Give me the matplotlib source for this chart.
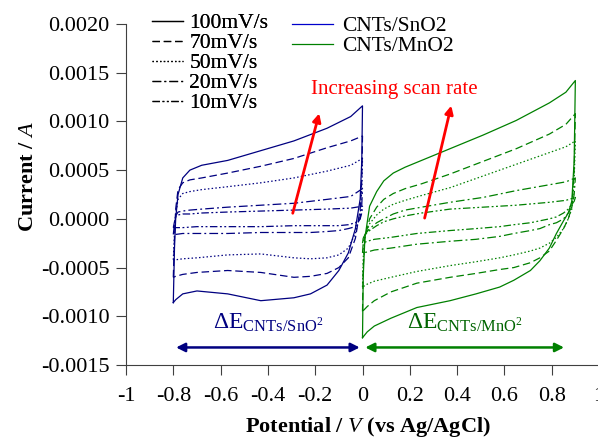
import matplotlib
matplotlib.use("Agg")
import matplotlib.pyplot as plt
from matplotlib.lines import Line2D

plt.rcParams["font.family"] = ["Liberation Serif", "DejaVu Serif"]
plt.rcParams["mathtext.fontset"] = "custom"
plt.rcParams["mathtext.rm"] = "Liberation Serif"
plt.rcParams["mathtext.it"] = "Liberation Serif:italic"
plt.rcParams["mathtext.bf"] = "Liberation Serif:bold"
plt.rcParams["axes.unicode_minus"] = False

# scan rates, legend labels
rates = ["100mV/s", "70mV/s", "50mV/s", "20mV/s", "10mV/s"]

# CNTs/SnO2 : anodic sweep (-0.8 -> 0 V) then cathodic sweep (0 -> -0.8 V)
sno2_up_x = [-0.80, -0.795, -0.79, -0.78, -0.76, -0.73, -0.68, -0.57, -0.43, -0.29, -0.15, -0.05, 0.0]
sno2_dn_x = [0.0, -0.003, -0.01, -0.03, -0.06, -0.10, -0.15, -0.22, -0.29, -0.43, -0.57, -0.70, -0.76, -0.79, -0.80]

sno2_up_100 = [-0.00086, -0.00030, 0.0, 0.00025, 0.00042, 0.00050, 0.00055, 0.00060, 0.00070, 0.00080, 0.00093, 0.00105, 0.00116]
sno2_dn_100 = [0.00116, 0.00060, 0.00020, -0.00010, -0.00035, -0.00053, -0.00068, -0.00077, -0.00081, -0.00084, -0.00077, -0.00074, -0.00077, -0.00083, -0.00086]
sno2_up_70 = [-0.00060, -0.00020, 0.00010, 0.00030, 0.00037, 0.00040, 0.00042, 0.00047, 0.00054, 0.00062, 0.00073, 0.00080, 0.00085]
sno2_dn_70 = [0.00085, 0.00040, 0.00010, -0.00020, -0.00040, -0.00050, -0.00056, -0.00059, -0.00060, -0.00055, -0.00053, -0.00055, -0.00057, -0.00059, -0.00060]
sno2_up_50 = [-0.00042, -0.00015, 0.00005, 0.00020, 0.00026, 0.00028, 0.00030, 0.00033, 0.00037, 0.00042, 0.00049, 0.00055, 0.00062]
sno2_dn_50 = [0.00062, 0.00030, 0.00005, -0.00015, -0.00030, -0.00037, -0.00040, -0.00041, -0.00040, -0.00036, -0.00037, -0.00040, -0.00041, -0.00042, -0.00042]
sno2_up_20 = [-0.00016, -0.00005, 0.00003, 0.00007, 0.00008, 0.00009, 0.00010, 0.00012, 0.00014, 0.00016, 0.00020, 0.00023, 0.00031]
sno2_dn_20 = [0.00031, 0.00015, 0.0, -0.00008, -0.00010, -0.00012, -0.00013, -0.00014, -0.00014, -0.00014, -0.00015, -0.00015, -0.00015, -0.00016, -0.00016]
sno2_up_10 = [-0.00009, -0.00003, 0.00002, 0.00004, 0.00005, 0.00005, 0.00006, 0.00007, 0.00008, 0.00009, 0.00010, 0.00011, 0.00013]
sno2_dn_10 = [0.00013, 0.00006, 0.0, -0.00004, -0.00006, -0.00007, -0.00007, -0.00007, -0.00007, -0.00008, -0.00008, -0.00008, -0.00009, -0.00009, -0.00009]

# CNTs/MnO2 : anodic sweep (0 -> 0.9 V) then cathodic sweep (0.9 -> 0 V)
mno2_up_x = [0.0, 0.003, 0.01, 0.03, 0.06, 0.09, 0.13, 0.18, 0.25, 0.37, 0.51, 0.65, 0.79, 0.86, 0.90]
mno2_dn_x = [0.90, 0.895, 0.885, 0.87, 0.85, 0.82, 0.79, 0.75, 0.71, 0.64, 0.58, 0.48, 0.37, 0.23, 0.12, 0.05, 0.02, 0.0]

mno2_up_100 = [-0.00122, -0.00060, -0.00020, 0.00013, 0.00028, 0.00039, 0.00047, 0.00053, 0.00060, 0.00072, 0.00086, 0.00101, 0.00119, 0.00130, 0.00142]
mno2_dn_100 = [0.00142, 0.00060, 0.00018, 0.00006, -0.00002, -0.00015, -0.00030, -0.00043, -0.00053, -0.00063, -0.00070, -0.00077, -0.00084, -0.00091, -0.00102, -0.00110, -0.00116, -0.00122]
mno2_up_70 = [-0.00095, -0.00050, -0.00020, 0.0, 0.00012, 0.00020, 0.00026, 0.00031, 0.00036, 0.00046, 0.00059, 0.00072, 0.00087, 0.00097, 0.00108]
mno2_dn_70 = [0.00108, 0.00050, 0.00012, 0.0, -0.00010, -0.00022, -0.00033, -0.00040, -0.00045, -0.00050, -0.00052, -0.00056, -0.00060, -0.00066, -0.00075, -0.00084, -0.00090, -0.00095]
mno2_up_50 = [-0.00070, -0.00040, -0.00018, -0.00005, 0.00004, 0.00010, 0.00015, 0.00019, 0.00024, 0.00032, 0.00044, 0.00056, 0.00068, 0.00074, 0.00080]
mno2_dn_50 = [0.00080, 0.00040, 0.00010, 0.0, -0.00010, -0.00019, -0.00025, -0.00030, -0.00033, -0.00037, -0.00040, -0.00044, -0.00048, -0.00054, -0.00060, -0.00064, -0.00067, -0.00070]
mno2_up_20 = [-0.00035, -0.00025, -0.00016, -0.00010, -0.00004, 0.0, 0.00005, 0.00009, 0.00012, 0.00017, 0.00022, 0.00029, 0.00035, 0.00038, 0.00042]
mno2_dn_20 = [0.00042, 0.00025, 0.00012, 0.00006, 0.0, -0.00004, -0.00006, -0.00010, -0.00012, -0.00015, -0.00018, -0.00021, -0.00023, -0.00026, -0.00030, -0.00032, -0.00034, -0.00035]
mno2_up_10 = [-0.00025, -0.00020, -0.00016, -0.00012, -0.00007, -0.00003, 0.0, 0.00003, 0.00006, 0.00010, 0.00012, 0.00014, 0.00017, 0.00019, 0.00022]
mno2_dn_10 = [0.00022, 0.00018, 0.00015, 0.00010, 0.00006, 0.00002, 0.0, -0.00002, -0.00004, -0.00006, -0.00008, -0.00010, -0.00012, -0.00015, -0.00019, -0.00021, -0.00023, -0.00025]

x_ticks = [-1, -0.8, -0.6, -0.4, -0.2, 0, 0.2, 0.4, 0.6, 0.8, 1]
x_tick_labels = ["-1", "-0.8", "-0.6", "-0.4", "-0.2", "0", "0.2", "0.4", "0.6", "0.8", "1"]
y_ticks = [-0.0015, -0.0010, -0.0005, 0.0, 0.0005, 0.0010, 0.0015, 0.0020]

BLUE = "#000080"
GREEN = "#008000"
styles = ["-", (0, (6, 3)), (0, (1.2, 1.8)), (0, (7, 2.5, 1.5, 2.5)), (0, (6, 2, 1.5, 2, 1.5, 2))]

sno2_up = [sno2_up_100, sno2_up_70, sno2_up_50, sno2_up_20, sno2_up_10]
sno2_dn = [sno2_dn_100, sno2_dn_70, sno2_dn_50, sno2_dn_20, sno2_dn_10]
mno2_up = [mno2_up_100, mno2_up_70, mno2_up_50, mno2_up_20, mno2_up_10]
mno2_dn = [mno2_dn_100, mno2_dn_70, mno2_dn_50, mno2_dn_20, mno2_dn_10]

fig = plt.figure(figsize=(5.98, 4.38), dpi=100)
ax = fig.add_axes([126 / 598, 73 / 438, 473 / 598, 341 / 438])

for i in range(len(rates)):
    ax.plot(sno2_up_x + sno2_dn_x, sno2_up[i] + sno2_dn[i],
            color=BLUE, lw=0.9, linestyle=styles[i])
    ax.plot(mno2_up_x + mno2_dn_x, mno2_up[i] + mno2_dn[i],
            color=GREEN, lw=0.9, linestyle=styles[i])

ax.set_xlim(-1, 1)
ax.set_ylim(-0.0015, 0.0020)
ax.set_xticks(x_ticks)
ax.set_xticklabels(x_tick_labels)
ax.set_yticks(y_ticks)
ax.set_yticklabels([f"{v:.4f}" for v in y_ticks])
ax.tick_params(direction="out", length=7, width=0.8, color="#404040",
               labelsize=16, pad=5)
ax.tick_params(axis="x", pad=9)
for side in ["top", "right"]:
    ax.spines[side].set_visible(False)
for side in ["left", "bottom"]:
    ax.spines[side].set_color("#404040")
    ax.spines[side].set_linewidth(0.8)

fig.text(28 / 598, 1 - 177 / 438, r"Current / $\mathit{A}$", rotation=90,
         ha="center", va="center", fontsize=16, fontweight="bold")
fig.text(368 / 598, 1 - 427 / 438, r"Potential / $\mathit{V}$ (vs Ag/AgCl)",
         ha="center", va="center", fontsize=16, fontweight="bold")

# red arrows
ax.annotate("", xy=(-0.18, 0.00111), xytext=(-0.298, 0.00003),
            arrowprops=dict(arrowstyle="-|>", color="red", lw=2, mutation_scale=12))
ax.annotate("", xy=(0.378, 0.00119), xytext=(0.26, -0.00002),
            arrowprops=dict(arrowstyle="-|>", color="red", lw=2, mutation_scale=12))
ax.text(0.133, 0.00133, "Increasing scan rate", color="red", fontsize=15,
        ha="center", va="center")

# potential window arrows
ax.annotate("", xy=(-0.8, -0.00132), xytext=(0.0, -0.00132),
            arrowprops=dict(arrowstyle="<|-|>", color=BLUE, lw=1.8, mutation_scale=13))
ax.annotate("", xy=(0.0, -0.00132), xytext=(0.864, -0.00132),
            arrowprops=dict(arrowstyle="<|-|>", color=GREEN, lw=1.8, mutation_scale=13))
ax.text(-0.4, -0.00107, r"$\Delta$E$_{\mathrm{CNTs/SnO}^{\mathrm{2}}}$", color=BLUE,
        fontsize=17, ha="center", va="center")
ax.text(0.433, -0.00107, r"$\Delta$E$_{\mathrm{CNTs/MnO}^{\mathrm{2}}}$", color="#006400",
        fontsize=17, ha="center", va="center")

# legends
rate_handles = [Line2D([], [], color="black", lw=0.9, linestyle=s) for s in styles]
leg1 = fig.legend(rate_handles, rates, loc="upper left",
                  bbox_to_anchor=(152 / 598, 1 - 13 / 438), frameon=False,
                  fontsize=15.5, handlelength=1.45, handletextpad=0.28,
                  labelspacing=0.0, borderpad=0, borderaxespad=0)
mat_handles = [Line2D([], [], color="#0000cc", lw=0.9),
               Line2D([], [], color=GREEN, lw=0.9)]
fig.legend(mat_handles, ["CNTs/SnO2", "CNTs/MnO2"], loc="upper left",
           bbox_to_anchor=(292 / 598, 1 - 16 / 438), frameon=False,
           fontsize=15.5, handlelength=1.9, handletextpad=0.42,
           labelspacing=0.0, borderpad=0, borderaxespad=0)
fig.add_artist(leg1)

fig.savefig("out.png", dpi=100)
